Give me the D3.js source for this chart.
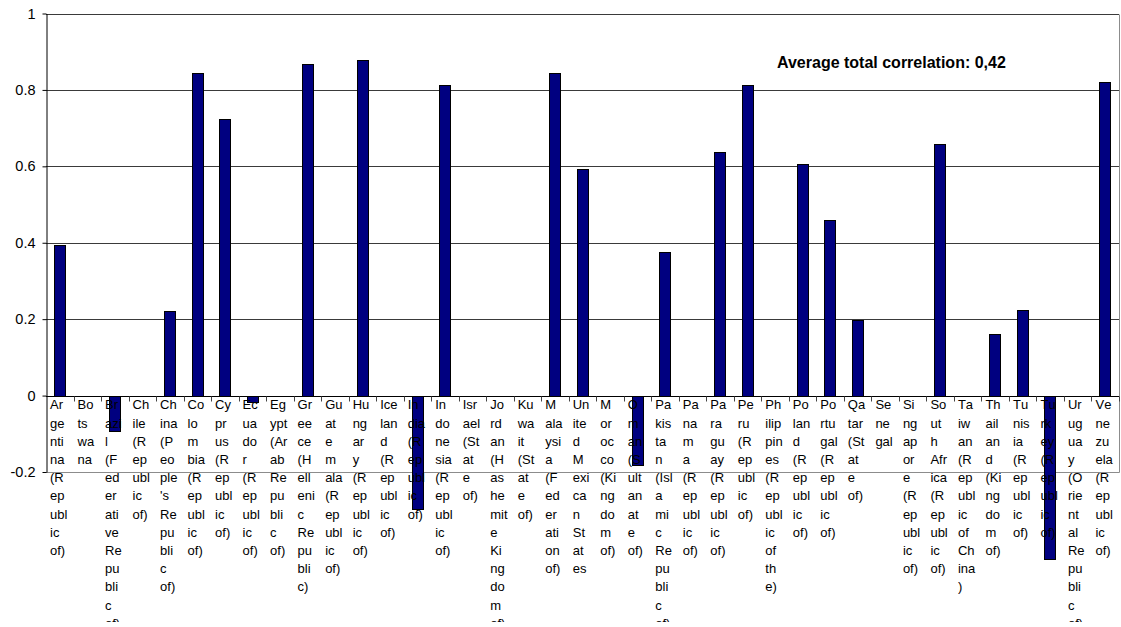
<!DOCTYPE html>
<html>
<head>
<meta charset="utf-8">
<script src="https://cdn.jsdelivr.net/npm/d3@7"></script>
<style>
  body { margin: 0; background: #fff; }
  svg { display: block; }
</style>
</head>
<body>
<svg id="chart" width="1121" height="627"></svg>
<script>
// Countries on the category axis
const categories = [
  "Argentina (Republic of)", "Botswana", "Brazil (Federative Republic of)",
  "Chile (Republic of)", "China (People's Republic of)", "Colombia (Republic of)",
  "Cyprus (Republic of)", "Ecuador (Republic of)", "Egypt (Arab Republic of)",
  "Greece (Hellenic Republic)", "Guatemala (Republic of)", "Hungary (Republic of)",
  "Iceland (Republic of)", "India (Republic of)", "Indonesia (Republic of)",
  "Israel (State of)", "Jordan (Hashemite Kingdom of)", "Kuwait (State of)",
  "Malaysia (Federation of)", "United Mexican States", "Morocco (Kingdom of)",
  "Oman (Sultanate of)", "Pakistan (Islamic Republic of)", "Panama (Republic of)",
  "Paraguay (Republic of)", "Peru (Republic of)", "Philippines (Republic of the)",
  "Poland (Republic of)", "Portugal (Republic of)", "Qatar (State of)",
  "Senegal", "Singapore (Republic of)", "South Africa (Republic of)",
  "Taiwan (Republic of China)", "Thailand (Kingdom of)", "Tunisia (Republic of)",
  "Turkey (Republic of)", "Uruguay (Oriental Republic of)", "Venezuela (Republic of)"
];

// Total correlation per country (null = no value)
const correlations = [
  0.395, null, -0.094,
  null, 0.221, 0.845,
  0.725, -0.018, null,
  0.869, null, 0.877,
  null, -0.297, 0.814,
  null, null, null,
  0.843, 0.593, null,
  -0.181, 0.376, null,
  0.637, 0.814, null,
  0.605, 0.460, 0.199,
  null, null, 0.658,
  null, 0.161, 0.225,
  -0.427, null, 0.820
];

const yTicks = [-0.2, 0, 0.2, 0.4, 0.6, 0.8, 1];
const yTickLabels = ["-0.2", "0", "0.2", "0.4", "0.6", "0.8", "1"];
const noteText = "Average total correlation: 0,42";

// Layout
const plot = { left: 46, right: 1119, top: 13.5, bottom: 472 };
const labelFont = "13px 'Liberation Sans', Arial, sans-serif";
const labelMaxWidth = 17.7;
const lineHeight = 18.2;

const svg = d3.select("#chart");

const x = d3.scaleBand().domain(categories).range([plot.left, plot.right]);
const xBar = x.copy().paddingInner(0.58).paddingOuter(0.29);
const y = d3.scaleLinear().domain([-0.2, 1]).range([plot.bottom, plot.top]);
const px = v => Math.round(v) + 0.5;

// Horizontal gridlines
svg.append("g")
  .selectAll("line")
  .data(yTicks.filter(t => t > 0))
  .join("line")
  .attr("x1", plot.left).attr("x2", plot.right)
  .attr("y1", d => px(y(d))).attr("y2", d => px(y(d)))
  .attr("stroke", "#3a3a3a").attr("stroke-width", 1);

// Plot area border (right and bottom)
svg.append("path")
  .attr("d", `M${px(plot.right)},${px(y(1))}V${px(y(-0.2))}H${plot.left}`)
  .attr("fill", "none").attr("stroke", "#8c8c8c").attr("stroke-width", 1);

// Bars
const data = categories.map((c, i) => ({ c, v: correlations[i] })).filter(d => d.v !== null);
svg.append("g")
  .selectAll("rect")
  .data(data)
  .join("rect")
  .attr("x", d => Math.round(xBar(d.c)) + 0.5)
  .attr("width", Math.round(xBar.bandwidth()) - 1)
  .attr("y", d => Math.round(y(Math.max(0, d.v))) + 0.5)
  .attr("height", d => Math.abs(Math.round(y(d.v)) - Math.round(y(0))))
  .attr("fill", "#000080")
  .attr("stroke", "#000")
  .attr("stroke-width", 1);

// Zero line
svg.append("line")
  .attr("x1", plot.left).attr("x2", plot.right)
  .attr("y1", px(y(0))).attr("y2", px(y(0)))
  .attr("stroke", "#000").attr("stroke-width", 1);

// Category tick marks along the zero line
svg.append("g")
  .selectAll("line")
  .data(categories)
  .join("line")
  .attr("x1", d => px(x(d) + x.step()))
  .attr("x2", d => px(x(d) + x.step()))
  .attr("y1", px(y(0))).attr("y2", px(y(0)) + 5)
  .attr("stroke", "#444").attr("stroke-width", 1);

// Wrap a label into narrow column lines, breaking inside words when needed
const ctx = document.createElement("canvas").getContext("2d");
ctx.font = labelFont;
if ("fontKerning" in ctx) ctx.fontKerning = "none";
const measure = s => ctx.measureText(s).width;
function wrap(text) {
  const lines = [];
  let current = "";
  for (const word of text.split(" ")) {
    if (current && measure(current + " " + word) <= labelMaxWidth) {
      current += " " + word;
      continue;
    }
    if (current) lines.push(current);
    let chunk = "";
    for (const ch of word) {
      if (chunk && measure(chunk + ch) > labelMaxWidth) {
        lines.push(chunk);
        chunk = ch;
      } else {
        chunk += ch;
      }
    }
    current = chunk;
  }
  if (current) lines.push(current);
  return lines;
}

// Category labels
svg.append("defs").append("clipPath").attr("id", "labelClip")
  .append("rect").attr("x", 0).attr("y", 0).attr("width", 1121).attr("height", 622);

const labels = svg.append("g")
  .attr("clip-path", "url(#labelClip)")
  .style("font", labelFont)
  .style("font-kerning", "none")
  .attr("fill", "#000");

labels.selectAll("text")
  .data(categories)
  .join("text")
  .attr("x", d => x(d) + 4)
  .attr("y", y(0) + 13.8)
  .each(function (d) {
    const t = d3.select(this);
    wrap(d).forEach((line, i) => {
      t.append("tspan")
        .attr("x", x(d) + 4)
        .attr("dy", i === 0 ? 0 : lineHeight)
        .text(line);
    });
  });

// Value axis
const yAxis = svg.append("g")
  .attr("transform", `translate(${px(plot.left)},0)`)
  .call(d3.axisLeft(y)
    .tickValues(yTicks)
    .tickFormat((d, i) => yTickLabels[i])
    .tickSize(4)
    .tickPadding(7)
    .tickSizeOuter(0));
yAxis.select(".domain").attr("stroke", "#000");
yAxis.selectAll(".tick line").attr("stroke", "#000");
yAxis.selectAll(".tick text")
  .attr("fill", "#000")
  .style("font", "14.5px 'Liberation Sans', Arial, sans-serif");

// Note
svg.append("text")
  .attr("x", 777)
  .attr("y", 67.5)
  .style("font", "bold 16px 'Liberation Sans', Arial, sans-serif")
  .attr("fill", "#000")
  .text(noteText);
</script>
</body>
</html>
